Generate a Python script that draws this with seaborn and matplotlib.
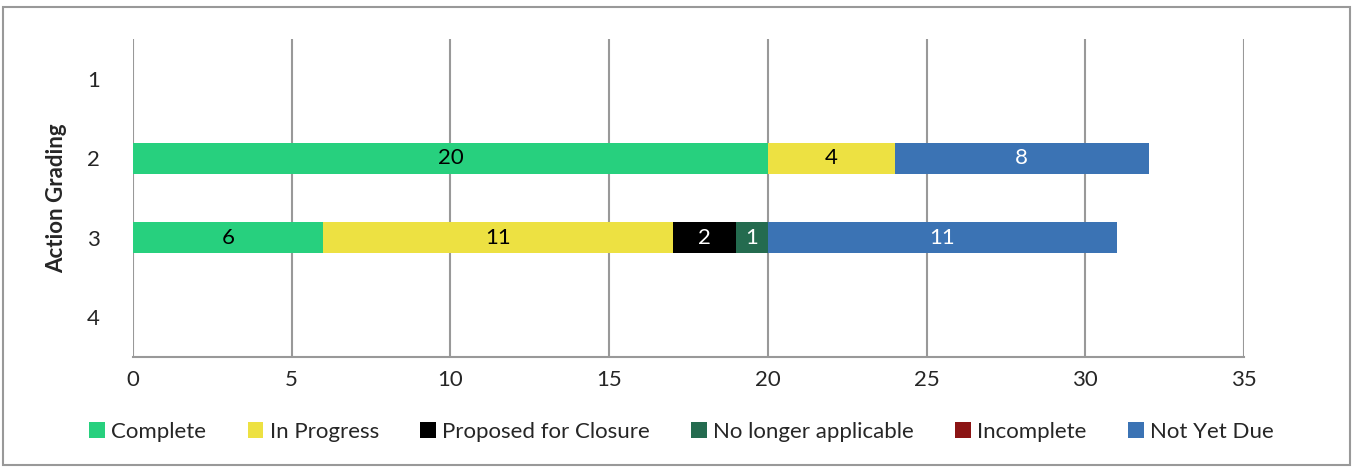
import matplotlib
matplotlib.use("Agg")
import matplotlib.pyplot as plt
from matplotlib.patches import Patch, Rectangle
import seaborn as sns
import pandas as pd
import numpy as np

grades = ["1", "2", "3", "4"]
series = ["Complete", "In Progress", "Proposed for Closure",
          "No longer applicable", "Incomplete", "Not Yet Due"]
complete = [0, 20, 6, 0]
in_progress = [0, 4, 11, 0]
proposed = [0, 0, 2, 0]
no_longer = [0, 0, 1, 0]
incomplete = [0, 0, 0, 0]
not_yet_due = [0, 8, 11, 0]
values = [complete, in_progress, proposed, no_longer, incomplete, not_yet_due]
colors = ["#27D07E", "#EDE142", "#000000", "#246B4F", "#8B1414", "#3B73B4"]
text_colors = ["black", "black", "white", "white", "white", "white"]
x_ticks = [0, 5, 10, 15, 20, 25, 30, 35]

sns.set_theme(style="white")
plt.rcParams["font.family"] = ["Lato", "DejaVu Sans"]
FS = 16

fig = plt.figure(figsize=(13.55, 4.68), dpi=100)
ax = fig.add_axes([133/1355, 1 - 356.5/468, (1244-133)/1355, (356.5-39.5)/468])

cum = np.cumsum(np.array(values), axis=0)
for i in range(len(series) - 1, -1, -1):
    df = pd.DataFrame({"grade": grades, "value": cum[i]})
    sns.barplot(data=df, y="grade", x="value", order=grades, orient="h",
                color=colors[i], width=0.4, ax=ax, saturation=1, zorder=3,
                linewidth=0, edgecolor="none")

for i in range(len(series)):
    for j, g in enumerate(grades):
        v = values[i][j]
        if v > 0:
            left = cum[i][j] - v
            ax.text(left + v / 2, j, str(v), ha="center", va="center",
                    color=text_colors[i], fontsize=FS, zorder=5)

ax.set_xlim(0, 35)
ax.set_xticks(x_ticks)
ax.set_xticklabels([str(t) for t in x_ticks], fontsize=FS)
ax.tick_params(axis="y", labelsize=FS, length=0, pad=24)
ax.tick_params(axis="x", length=0, pad=10)
ax.set_ylabel("Action Grading", fontsize=FS, fontweight="bold", labelpad=14)
ax.set_xlabel("")
ax.xaxis.grid(True, color="#999999", linewidth=1.5, zorder=0)
ax.set_axisbelow(True)
for s in ["top", "right", "left"]:
    ax.spines[s].set_visible(False)
ax.spines["bottom"].set_color("#999999")
ax.spines["bottom"].set_linewidth(1.5)

handles = [Patch(facecolor=c, edgecolor="none", label=s) for s, c in zip(series, colors)]
fig.legend(handles=handles, loc="center", bbox_to_anchor=(0.503, 1 - 432/468),
           ncol=6, frameon=False, fontsize=FS, handlelength=0.7, handleheight=0.7,
           handletextpad=0.3, columnspacing=1.85)

fig.patches.append(Rectangle((3/1355, 3/468), 1347/1355, 458/468, transform=fig.transFigure,
                             fill=False, edgecolor="#999999", linewidth=1.5))

fig.savefig("out.png", dpi=100)
